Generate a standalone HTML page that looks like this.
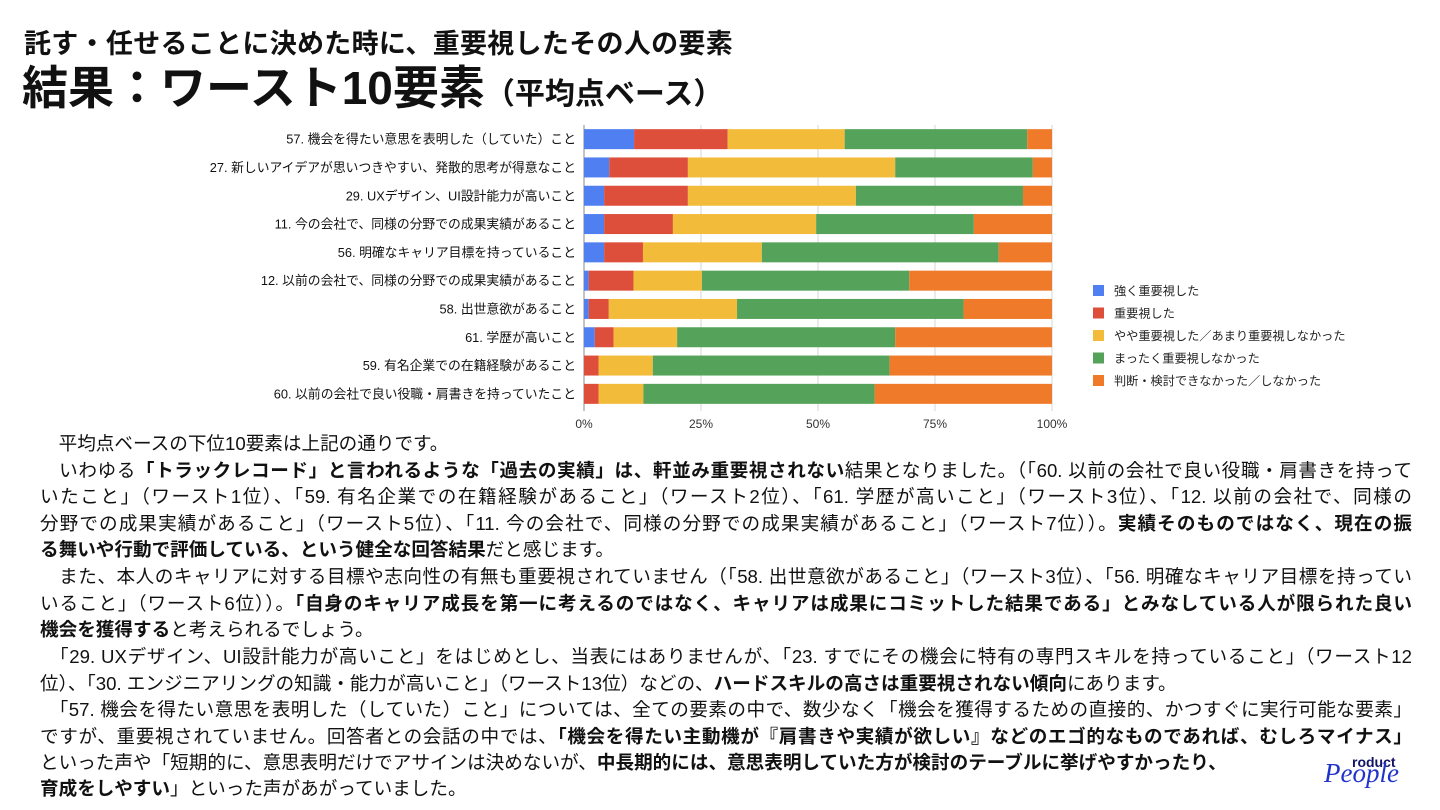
<!DOCTYPE html>
<html><head><meta charset="utf-8">
<style>
body{margin:0;width:1440px;height:810px;background:#fff;position:relative;overflow:hidden;font-family:"Liberation Sans","Noto Sans CJK JP",sans-serif;color:#111}
.t1{position:absolute;left:24px;top:22px;font-size:27px;font-weight:bold;letter-spacing:0.3px}
.t2{position:absolute;left:22px;top:52px;font-size:46px;font-weight:bold;white-space:nowrap}
.t2 small{font-size:30px}
.ln{position:absolute;left:40px;width:1372px;font-size:18.6px;line-height:26px;white-space:nowrap;text-align:justify;text-align-last:justify}
.ln.s{text-align-last:left}
b{font-weight:bold}
</style></head><body>
<div class="t1">託す・任せることに決めた時に、重要視したその人の要素</div>
<div class="t2">結果：ワースト10要素<small>（平均点ベース）</small></div>
<svg id="chart" width="1440" height="440" style="position:absolute;left:0;top:0"></svg>
<div>
<div class="ln s" style="top:431px">　平均点ベースの下位10要素は上記の通りです。</div>
<div class="ln" style="top:458px">　いわゆる<b>「トラックレコード」と言われるような「過去の実績」は、軒並み重要視されない</b>結果となりました。（「60. 以前の会社で良い役職・肩書きを持って</div>
<div class="ln" style="top:484px">いたこと」（ワースト1位）、「59. 有名企業での在籍経験があること」（ワースト2位）、「61. 学歴が高いこと」（ワースト3位）、「12. 以前の会社で、同様の</div>
<div class="ln" style="top:511px">分野での成果実績があること」（ワースト5位）、「11. 今の会社で、同様の分野での成果実績があること」（ワースト7位））。<b>実績そのものではなく、現在の振</b></div>
<div class="ln s" style="top:537px"><b>る舞いや行動で評価している、という健全な回答結果</b>だと感じます。</div>
<div class="ln" style="top:564px">　また、本人のキャリアに対する目標や志向性の有無も重要視されていません（「58. 出世意欲があること」（ワースト3位）、「56. 明確なキャリア目標を持ってい</div>
<div class="ln" style="top:591px">いること」（ワースト6位））。<b>「自身のキャリア成長を第一に考えるのではなく、キャリアは成果にコミットした結果である」とみなしている人が限られた良い</b></div>
<div class="ln s" style="top:617px"><b>機会を獲得する</b>と考えられるでしょう。</div>
<div class="ln" style="top:644px">　「29. UXデザイン、UI設計能力が高いこと」をはじめとし、当表にはありませんが、「23. すでにその機会に特有の専門スキルを持っていること」（ワースト12</div>
<div class="ln s" style="top:671px">位）、「30. エンジニアリングの知識・能力が高いこと」（ワースト13位）などの、<b>ハードスキルの高さは重要視されない傾向</b>にあります。</div>
<div class="ln" style="top:697px">　「57. 機会を得たい意思を表明した（していた）こと」については、全ての要素の中で、数少なく「機会を獲得するための直接的、かつすぐに実行可能な要素」</div>
<div class="ln" style="top:724px">ですが、重要視されていません。回答者との会話の中では、<b>「機会を得たい主動機が『肩書きや実績が欲しい』などのエゴ的なものであれば、むしろマイナス」</b></div>
<div class="ln s" style="top:750px">といった声や「短期的に、意思表明だけでアサインは決めないが、<b>中長期的には、意思表明していた方が検討のテーブルに挙げやすかったり、</b></div>
<div class="ln s" style="top:776px"><b>育成をしやすい</b>」といった声があがっていました。</div>
</div>
<div style="position:absolute;left:1322px;top:752px;width:100px;height:40px">
<span style="position:absolute;left:30px;top:2px;font-size:14px;font-weight:bold;color:#141466">roduct</span>
<span style="position:absolute;left:2px;top:6px;font-size:27px;font-style:italic;font-family:'Liberation Serif',serif;color:#2233cc">People</span>
</div>
<script>
const categories=["57. 機会を得たい意思を表明した（していた）こと","27. 新しいアイデアが思いつきやすい、発散的思考が得意なこと","29. UXデザイン、UI設計能力が高いこと","11. 今の会社で、同様の分野での成果実績があること","56. 明確なキャリア目標を持っていること","12. 以前の会社で、同様の分野での成果実績があること","58. 出世意欲があること","61. 学歴が高いこと","59. 有名企業での在籍経験があること","60. 以前の会社で良い役職・肩書きを持っていたこと"];
const strong=[10.7,5.4,4.3,4.3,4.3,1.0,1.0,2.3,0,0];
const important=[20.0,16.8,17.9,14.7,8.3,9.6,4.3,4.0,3.1,3.1];
const somewhat=[25.0,44.3,35.9,30.6,25.4,14.6,27.4,13.6,11.6,9.6];
const notAtAll=[39.0,29.4,35.7,33.7,50.6,44.3,48.4,46.6,50.6,49.4];
const undecided=[5.3,4.1,6.2,16.7,11.4,30.5,18.9,33.5,34.7,37.9];
const seriesNames=["強く重要視した","重要視した","やや重要視した／あまり重要視しなかった","まったく重要視しなかった","判断・検討できなかった／しなかった"];
const ticks=[0,25,50,75,100];
const colors=["#4f7ff0","#dd4f3b","#f2bb3a","#55a35a","#ef7a2a"];
const series=[strong,important,somewhat,notAtAll,undecided];
const NS="http://www.w3.org/2000/svg",svg=document.getElementById('chart');
const x0=584,x1=1052,y0=125,rowH=28.3,barH=20;
const xs=v=>x0+(x1-x0)*v/100;
const yc=i=>y0+rowH*(i+0.5);
function mk(t,a){const e=document.createElementNS(NS,t);for(const k in a)e.setAttribute(k,a[k]);svg.appendChild(e);return e;}
ticks.forEach(t=>{
 const l=mk('line',{x1:xs(t),x2:xs(t),y1:y0,y2:y0+rowH*10+3,stroke:t===0?'#888':'#d6d6d6','stroke-width':1});
 
 
 const tx=mk('text',{x:xs(t),y:428,'font-size':12,'text-anchor':'middle',fill:'#333'});
 tx.textContent=t+'%';
 
 
});
categories.forEach((c,i)=>{
 const tx=mk('text',{x:576,y:yc(i)+4.5,'font-size':12.8,'text-anchor':'end',fill:'#111'});
 tx.textContent=c;
 
 
 let acc=0;
 series.forEach((s,k)=>{
  const v=s[i];
  const r=mk('rect',{x:xs(acc),y:yc(i)-barH/2,width:Math.max(0,xs(acc+v)-xs(acc)),height:barH,fill:colors[k]});
  
  
  acc+=v;
 });
});
seriesNames.forEach((n,k)=>{
 const y=291+k*22.5;
 const r=mk('rect',{x:1093,y:y-6,width:11,height:11,fill:colors[k]});
 
 
 const tx=mk('text',{x:1114,y:y+4,'font-size':12.2,fill:'#222'});
 tx.textContent=n;
 
 
});
</script>
</body></html>
